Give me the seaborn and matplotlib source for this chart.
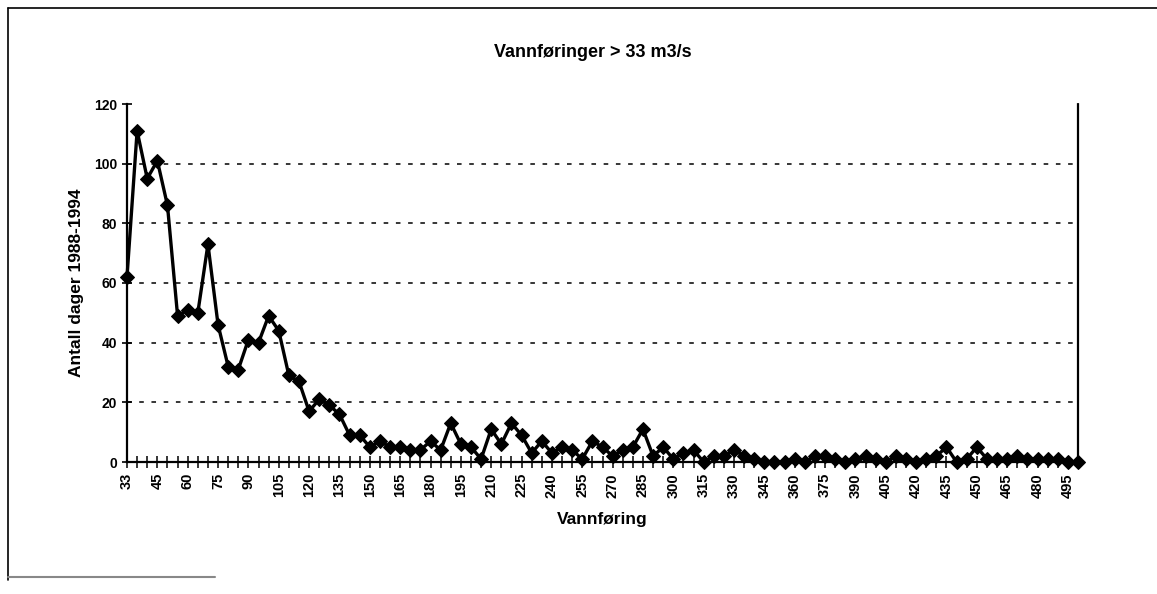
import numpy as np
import pandas as pd
import matplotlib
matplotlib.use('Agg')
import matplotlib.pyplot as plt
import seaborn as sns
from matplotlib.lines import Line2D

# --------------------------------------------------------------
# Data: vannføring-klasser (m3/s) og antall dager 1988-1994
# --------------------------------------------------------------
vannforing = [33] + list(range(35, 505, 5))
antall_dager = [
    62, 111, 95, 101, 86, 49, 51, 50, 73, 46,
    32, 31, 41, 40, 49, 44, 29, 27, 17, 21,
    19, 16, 9, 9, 5, 7, 5, 5, 4, 4,
    7, 4, 13, 6, 5, 1, 11, 6, 13, 9,
    3, 7, 3, 5, 4, 1, 7, 5, 2, 4,
    5, 11, 2, 5, 1, 3, 4, 0, 2, 2,
    4, 2, 1, 0, 0, 0, 1, 0, 2, 2,
    1, 0, 1, 2, 1, 0, 2, 1, 0, 1,
    2, 5, 0, 1, 5, 1, 1, 1, 2, 1,
    1, 1, 1, 0, 0,
]
y_ticks = [0, 20, 40, 60, 80, 100, 120]
label_step = 3

df = pd.DataFrame({'Vannføring': [str(v) for v in vannforing],
                   'Antall dager': antall_dager})

sns.set_style('white')
plt.rcParams['font.family'] = ['Liberation Sans', 'DejaVu Sans']
plt.rcParams.update({'text.color': 'black', 'axes.labelcolor': 'black',
                     'xtick.color': 'black', 'ytick.color': 'black'})

fig = plt.figure(figsize=(11.57, 5.94), dpi=100)
ax = fig.add_axes([127 / 1157, 1 - 462 / 594, (1078 - 127) / 1157, (462 - 104) / 594])

sns.lineplot(data=df, x='Vannføring', y='Antall dager', ax=ax, sort=False,
             color='black', linewidth=2.4, marker='D', markersize=7.5,
             markeredgecolor='black', clip_on=False, zorder=5)

n = len(vannforing)
ax.set_xlim(0, n - 1)
ax.set_ylim(0, 120)
ax.set_yticks(y_ticks)
ax.set_xticks(range(n))
ax.set_xticklabels([lbl if i % label_step == 0 else '' for i, lbl in enumerate(df['Vannføring'])],
                   rotation=90, fontsize=10.5, fontweight='bold')
ax.tick_params(axis='x', bottom=True, direction='inout', length=8, width=1.1, pad=4)
ax.tick_params(axis='y', left=True, direction='inout', length=7, width=1.2, labelsize=10)
for t in ax.get_yticklabels():
    t.set_fontweight('bold')

# stiplede rutenettlinjer
for yv in y_ticks[1:-1]:
    ax.axhline(yv, color='black', linestyle=(0, (3, 5)), linewidth=1.1, zorder=1)

for side in ['left', 'bottom']:
    ax.spines[side].set_color('black')
    ax.spines[side].set_linewidth(1.6)
ax.spines['top'].set_visible(False)
ax.spines['right'].set_color('black')
ax.spines['right'].set_linestyle((0, (1, 1)))
ax.spines['right'].set_linewidth(1.6)

ax.set_title('Vannføringer > 33 m3/s', fontsize=13, fontweight='bold', pad=34, x=0.49)
ax.set_xlabel('Vannføring', fontsize=12.5, fontweight='bold', labelpad=10)
ax.set_ylabel('Antall dager 1988-1994', fontsize=12.5, fontweight='bold', labelpad=7)

# ramme rundt diagrammet
fig.add_artist(Line2D([8 / 1157, 8 / 1157], [1 - 8 / 594, 1 - 580 / 594], color='black', lw=1.2))
fig.add_artist(Line2D([8 / 1157, 1], [1 - 8 / 594, 1 - 8 / 594], color='black', lw=1.2))
fig.add_artist(Line2D([8 / 1157, 215 / 1157], [1 - 577 / 594, 1 - 577 / 594], color='#888888', lw=1.5))

fig.savefig('out.png', dpi=100)
